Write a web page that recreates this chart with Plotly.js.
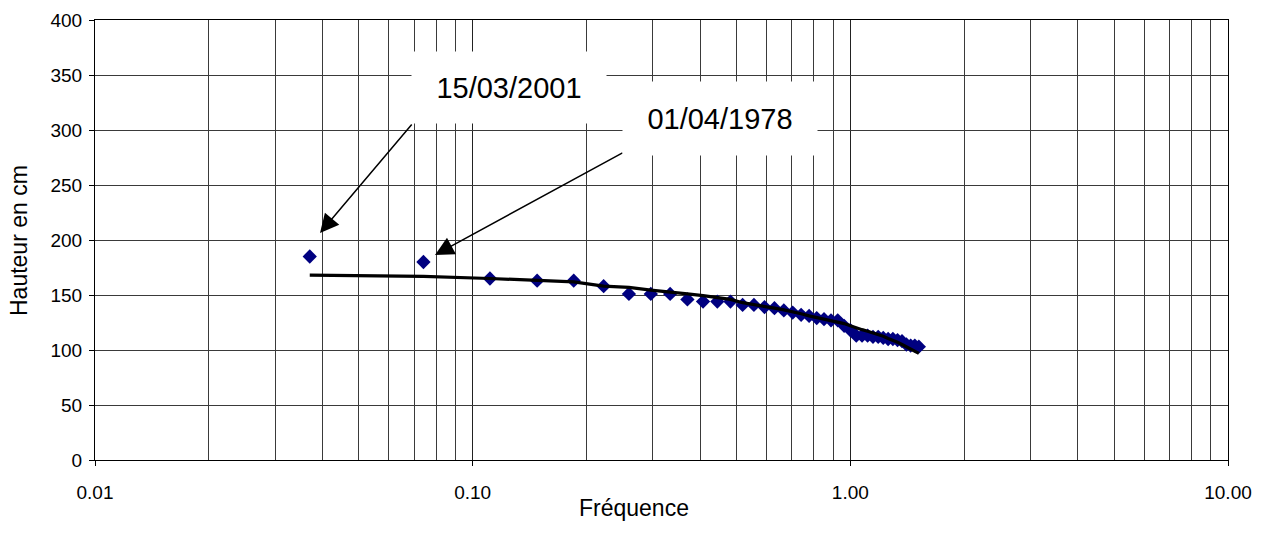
<!DOCTYPE html>
<html>
<head>
<meta charset="utf-8">
<script src="https://cdn.plot.ly/plotly-3.0.1.min.js"></script>
<style>html,body{margin:0;padding:0;background:#fff;}#chart{width:1267px;height:543px;}</style>
</head>
<body>
<div id="chart"></div>
<script>
// Rank of each observation (frequency = rank / years)
const years = 27;
const ranks = [1,2,3,4,5,6,7,8,9,10,11,12,13,14,15,16,17,18,19,20,21,22,23,24,25,26,27,28,29,30,31,32,33,34,35,36,37,38,39,40,41];
const frequencies = ranks.map(r => r / years);
// Observed heights (cm)
const observed = [185,180,165,163,163,158,151,151,151,146,144,144,144,141,141,139,138,136,134,132,131,129,128,127,127,122,118,113,113,113,112,112,111,110,110,109,108,105,104,104,103];
// Fitted curve (cm)
const fitted = [168,167,165,163,162,158,157,154.5,153,151,149.5,147.5,146,143,141,139.5,138,136.5,135,133,131,129.5,128,126.5,125,124,122,120,118.5,117,115.5,114,112.5,110.5,109,107,105,103,101,99,97];

const xMajorVals = [0.01, 0.1, 1, 10];
const xMajorText = ['0.01', '0.10', '1.00', '10.00'];
const xMinorVals = [];
[0.01, 0.1, 1].forEach(d => { for (let k = 2; k <= 9; k++) xMinorVals.push(+(d * k).toPrecision(3)); });

const labels = ['15/03/2001', '01/04/1978'];
const xTitle = 'Fréquence';
const yTitle = 'Hauteur en cm';

// plot area in pixels
const L = 95, R = 1228, T = 20, B = 460, W = 1267, H = 543;
const px = x => (x - L) / (R - L);
const py = y => (B - y) / (B - T);

const font = {family: 'Liberation Sans, Arial, sans-serif', color: '#000'};

const traces = [
  {x: frequencies, y: observed, type: 'scatter', mode: 'markers',
   marker: {symbol: 'diamond', size: 11, color: '#000080', line: {width: 0}}},
  {x: frequencies, y: fitted, type: 'scatter', mode: 'lines',
   line: {color: '#000', width: 3.2}}
];

const layout = {
  width: W, height: H,
  margin: {l: L, r: W - R, t: T, b: H - B},
  paper_bgcolor: '#fff', plot_bgcolor: '#fff',
  showlegend: false,
  font: Object.assign({size: 19}, font),
  xaxis: {
    type: 'log', range: [-2, 1],
    tickmode: 'array', tickvals: xMajorVals, ticktext: xMajorText,
    ticks: 'outside', ticklen: 5, tickcolor: '#000', ticklabelstandoff: 10,
    showgrid: true, gridcolor: '#222', gridwidth: 1,
    minor: {tickmode: 'array', tickvals: xMinorVals, showgrid: true, gridcolor: '#3a3a3a', gridwidth: 1, ticks: ''},
    showline: true, linecolor: '#000', linewidth: 1, mirror: true,
    zeroline: false,
    tickfont: Object.assign({size: 19}, font)
  },
  yaxis: {
    range: [0, 400], tickmode: 'linear', tick0: 0, dtick: 50,
    ticks: 'outside', ticklen: 5, tickcolor: '#000', ticklabelstandoff: 3,
    showgrid: true, gridcolor: '#3a3a3a', gridwidth: 1,
    showline: true, linecolor: '#000', linewidth: 1, mirror: true,
    zeroline: false,
    tickfont: Object.assign({size: 19}, font)
  },
  annotations: [
    // axis titles
    {xref: 'paper', yref: 'paper', x: px(634), y: py(508), xanchor: 'center', yanchor: 'middle',
     text: xTitle, showarrow: false, font: Object.assign({size: 23}, font)},
    {xref: 'paper', yref: 'paper', x: px(19), y: py(241), xanchor: 'center', yanchor: 'middle',
     text: yTitle, textangle: -90, showarrow: false, font: Object.assign({size: 23}, font)},
    // arrows
    {xref: 'paper', yref: 'paper', x: px(320), y: py(233), text: '', showarrow: true,
     axref: 'pixel', ayref: 'pixel', ax: 93, ay: -110,
     arrowhead: 2, arrowsize: 2.5, arrowwidth: 1.5, arrowcolor: '#000', standoff: 0},
    {xref: 'paper', yref: 'paper', x: px(435), y: py(255), text: '', showarrow: true,
     axref: 'pixel', ayref: 'pixel', ax: 189, ay: -103,
     arrowhead: 2, arrowsize: 2.5, arrowwidth: 1.5, arrowcolor: '#000', standoff: 0},
    // label boxes
    {xref: 'paper', yref: 'paper', x: px(509), y: py(87.5), xanchor: 'center', yanchor: 'middle',
     text: labels[0], showarrow: false, bgcolor: '#fff', width: 192, height: 69, borderpad: 1,
     font: Object.assign({size: 29}, font)},
    {xref: 'paper', yref: 'paper', x: px(720), y: py(118.5), xanchor: 'center', yanchor: 'middle',
     text: labels[1], showarrow: false, bgcolor: '#fff', width: 192, height: 71, borderpad: 1,
     font: Object.assign({size: 29}, font)}
  ]
};

Plotly.newPlot('chart', traces, layout, {displayModeBar: false, staticPlot: true});
</script>
</body>
</html>
